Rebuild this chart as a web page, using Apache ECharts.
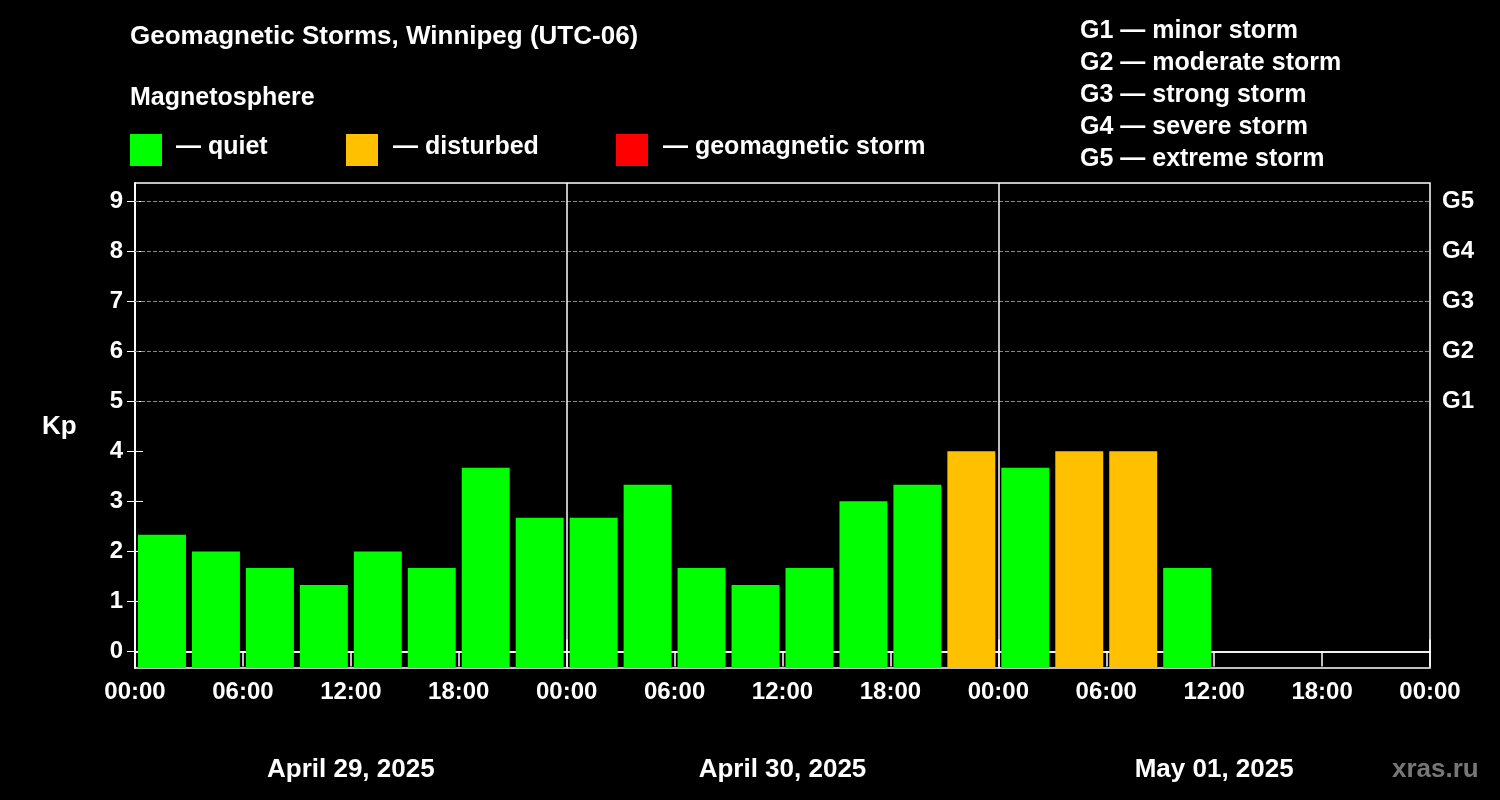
<!DOCTYPE html>
<html><head><meta charset="utf-8">
<script src="https://cdn.jsdelivr.net/npm/echarts@6/dist/echarts.min.js"></script>
<style>html,body{margin:0;background:#000}#c{width:1500px;height:800px}</style>
</head><body><div id="c"></div>
<script>
const startHours = [0,3,6,9,12,15,18,21,24,27,30,33,36,39,42,45,48,51,54,57];
const kpValues = [2.33,2,1.67,1.33,2,1.67,3.67,2.67,2.67,3.33,1.67,1.33,1.67,3,3.33,4,3.67,4,4,1.67];
const dayLabels = ['April 29, 2025','April 30, 2025','May 01, 2025'];
const gLabels = {5:'G1',6:'G2',7:'G3',8:'G4',9:'G5'};
const F = 'Liberation Sans, Arial, sans-serif';
function color(v){return v>=5?'#ff0000':(v>=4?'#ffc000':'#00ff00');}
const chart = echarts.init(document.getElementById('c'));
const YMIN=-0.33, YMAX=9.36;
chart.setOption({
  backgroundColor:'#000',
  animation:false,
  grid:{left:135,right:70,top:183,bottom:132,show:true,borderColor:'#fff',borderWidth:1.5,backgroundColor:'transparent'},
  xAxis:[{type:'value',min:0,max:72,interval:6,
    axisLine:{lineStyle:{color:'#fff',width:1.5}},
    axisTick:{show:true,length:15,lineStyle:{color:'#fff',width:1.5}},
    axisLabel:{color:'#fff',fontFamily:F,fontWeight:'bold',fontSize:24,margin:12,
      formatter:v=>String(v%24===0?0:v%24).padStart(2,'0')+':00'},
    splitLine:{show:false}},
   {type:'value',min:0,max:72,position:'bottom',offset:77,
    axisLine:{show:true,lineStyle:{color:'#fff',width:1.5}},
    axisTick:{show:true,inside:true,length:12,customValues:[0,24,48,72],lineStyle:{color:'#fff',width:1.5}},
    axisLabel:{color:'#fff',fontFamily:F,fontWeight:'bold',fontSize:26,margin:12,customValues:[12,36,60],
      formatter:v=>dayLabels[Math.floor(v/24)]},
    splitLine:{show:false}}],
  yAxis:[{type:'value',min:YMIN,max:YMAX,
    axisLine:{show:true,lineStyle:{color:'#fff',width:1.5}},
    axisTick:{show:true,length:8,customValues:[0,1,2,3,4,5,6,7,8,9],lineStyle:{color:'#fff'}},
    axisLabel:{color:'#fff',fontFamily:F,fontWeight:'bold',fontSize:24,margin:12,customValues:[0,1,2,3,4,5,6,7,8,9]},
    splitLine:{show:false}},
   {type:'value',min:YMIN,max:YMAX,position:'right',
    axisLine:{show:true,lineStyle:{color:'#fff',width:1.5}},
    axisTick:{show:true,length:8,customValues:[0,1,2,3,4,5,6,7,8,9],lineStyle:{color:'#fff'}},
    axisLabel:{color:'#fff',fontFamily:F,fontWeight:'bold',fontSize:24,margin:12,customValues:[5,6,7,8,9],
      formatter:v=>gLabels[Math.round(v)]||''},
    splitLine:{show:false}}],
  series:[{type:'custom',xAxisIndex:0,yAxisIndex:0,
    data:startHours.map((h,i)=>[h,kpValues[i]]),
    renderItem:(params,api)=>{
      const x=api.value(0),v=api.value(1);
      const p0=api.coord([x,YMIN]),p1=api.coord([x+3,v]);
      return {type:'rect',shape:{x:p0[0]+3,y:p1[1],width:p1[0]-p0[0]-6,height:p0[1]-p1[1]},
        style:{fill:color(v)}};
    },
    markLine:{silent:true,symbol:'none',label:{show:false},
      data:[
        ...[5,6,7,8,9].map(v=>({yAxis:v,lineStyle:{color:'#888',type:'dashed',width:1}})),
        {xAxis:24,lineStyle:{color:'#fff',type:'solid',width:1.5}},
        {xAxis:48,lineStyle:{color:'#fff',type:'solid',width:1.5}}]}
  }],
  graphic:[
    {type:'text',left:130,top:24,style:{text:'Geomagnetic Storms, Winnipeg (UTC-06)',fill:'#fff',font:'bold 26px '+F}},
    {type:'text',left:130,top:86,style:{text:'Magnetosphere',fill:'#fff',font:'bold 25px '+F}},
    {type:'rect',left:130,top:134,shape:{width:32,height:32},style:{fill:'#00ff00'}},
    {type:'text',left:176,top:135,style:{text:'— quiet',fill:'#fff',font:'bold 25px '+F}},
    {type:'rect',left:346,top:134,shape:{width:32,height:32},style:{fill:'#ffc000'}},
    {type:'text',left:393,top:135,style:{text:'— disturbed',fill:'#fff',font:'bold 25px '+F}},
    {type:'rect',left:616,top:134,shape:{width:32,height:32},style:{fill:'#ff0000'}},
    {type:'text',left:663,top:135,style:{text:'— geomagnetic storm',fill:'#fff',font:'bold 25px '+F}},
    {type:'text',left:1080,top:15,style:{text:'G1 — minor storm\nG2 — moderate storm\nG3 — strong storm\nG4 — severe storm\nG5 — extreme storm',fill:'#fff',font:'bold 25px '+F,lineHeight:32}},
    {type:'text',left:42,top:414,style:{text:'Kp',fill:'#fff',font:'bold 26px '+F}},
    {type:'text',left:1392,top:757,style:{text:'xras.ru',fill:'#777',font:'bold 26px '+F}}
  ]
});
</script></body></html>
